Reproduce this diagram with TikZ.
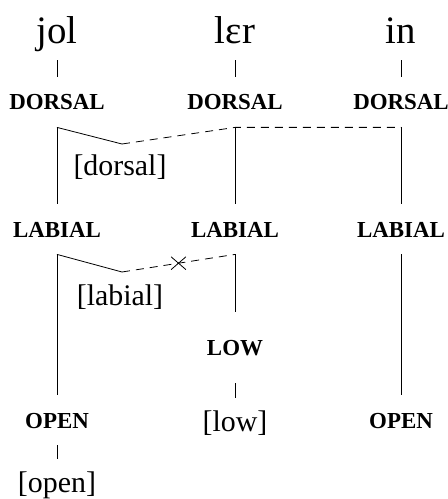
\documentclass[tikz,border=0pt]{standalone}
\usepackage{fontspec}
\setmainfont{Liberation Serif}
\usetikzlibrary{shapes.misc}

\begin{document}
\begin{tikzpicture}[x=1bp,y=-1bp,line width=0.8bp,
    word/.style={anchor=base,font=\fontsize{39}{42}\selectfont,text depth=10bp,inner ysep=6bp},
    feat/.style={anchor=base,font=\bfseries\fontsize{23}{25}\selectfont,text height=16bp,text depth=0bp,inner ysep=17bp},
    val/.style={anchor=base,font=\fontsize{30}{33}\selectfont,text height=24bp,text depth=7bp,inner ysep=9bp},
    spread/.style={dash pattern=on 8bp off 6bp}]
  \useasboundingbox (0,0) rectangle (448,499);
  % three segments, each with its word, DORSAL and LABIAL
  \foreach \x/\n/\w in {57/a/jol,235/b/lɛr,401/c/in}
  {
    \node[word] (w\n) at (\x,44) {\w};
    \node[feat] (d\n) at (\x,110) {DORSAL};
    \node[feat] (l\n) at (\x,237) {LABIAL};
    \draw (w\n) -- (d\n);
    \draw (d\n.south) -- (l\n.north);
  }
  \node[feat] (oa) at (57,428) {OPEN};
  \node[feat] (lo) at (235,355) {LOW};
  \node[feat] (oc) at (401,428) {OPEN};
  \node[val] (vdors) at (120,176) {[dorsal]};
  \node[val] (vlab) at (120,305) {[labial]};
  \node[val] (vlow) at (235,431) {[low]};
  \node[val] (vopen) at (57,492) {[open]};
  % dorsal spreads rightwards
  \coordinate (kd) at (122,144);
  \draw (da.south) -- (kd);
  \draw[spread] (kd) -- (db.south) -- (dc.south);
  % labial spreading is blocked
  \coordinate (kl) at (122,272);
  \draw (la.south) -- (kl);
  \draw[spread] (kl) -- node[draw,cross out,minimum width=14bp,minimum height=12bp,inner sep=0pt,solid] (blk) {} (lb.south);
  \draw (la.south) -- (oa.north);
  \draw (lc.south) -- (oc.north);
  \draw[shorten >=10bp] (lb.south) -- (lo.north);
  \draw[shorten <=11bp] (lo) -- (vlow);
  \draw (oa) -- (vopen);
\end{tikzpicture}
\end{document}
